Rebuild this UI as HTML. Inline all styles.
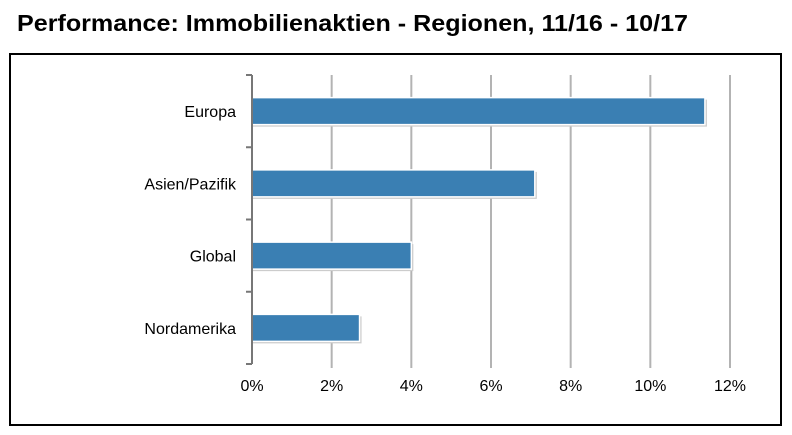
<!DOCTYPE html>
<html><head><meta charset="utf-8"><style>
body{margin:0;background:#fff;}
svg{display:block;font-family:"Liberation Sans",Arial,sans-serif;}
</style></head><body>
<svg width="792" height="435" viewBox="0 0 792 435">
<text x="17" y="31" font-size="23" font-weight="bold" fill="#000" textLength="671" lengthAdjust="spacingAndGlyphs">Performance: Immobilienaktien - Regionen, 11/16 - 10/17</text>
<rect x="10" y="54" width="771" height="371" fill="none" stroke="#000" stroke-width="2"/>
<g id="grid"></g>
<g id="bars"></g>
<g id="axes"></g>
</svg>
<script>
const categories=["Europa","Asien/Pazifik","Global","Nordamerika"];
const values=[11.37,7.1,4.0,2.7];
const ticks=[0,2,4,6,8,10,12];
const tickLabels=["0%","2%","4%","6%","8%","10%","12%"];
const NS="http://www.w3.org/2000/svg";
const x0=252,x1=730,y0=75,y1=364,xmax=12;
const xs=v=>x0+(x1-x0)*v/xmax;
const band=(y1-y0)/categories.length;
function mk(tag,attrs,parent){const e=document.createElementNS(NS,tag);for(const k in attrs)e.setAttribute(k,attrs[k]);parent.appendChild(e);return e;}
const grid=document.getElementById('grid'),bars=document.getElementById('bars'),axes=document.getElementById('axes');
ticks.forEach((t,i)=>{
  if(i>0){const l=mk('line',{x1:xs(t),x2:xs(t),y1:y0,y2:y1+4,stroke:'#b3b3b3','stroke-width':2},grid);
  
  }
  const tx=mk('text',{x:xs(t),y:391,'font-size':16,'text-anchor':'middle',fill:'#000'},axes);
  tx.textContent=tickLabels[i];
  
  
});
const ax=mk('line',{x1:x0,x2:x0,y1:y0,y2:y1,stroke:'#777','stroke-width':2},axes);


for(let i=0;i<=categories.length;i++){
  const y=y0+band*i;
  const tk=mk('line',{x1:x0-6,x2:x0,y1:y,y2:y,stroke:'#777','stroke-width':2},axes);
  
  
}
categories.forEach((c,i)=>{
  const cy=y0+band*(i+0.5);
  const h=27;
  const sh=mk('rect',{x:x0+1,y:cy-h/2+2,width:xs(values[i])-x0+1,height:h,fill:'#ccc'},bars);
  
  
  const r=mk('rect',{x:x0,y:cy-h/2,width:xs(values[i])-x0,height:h,fill:'#3a7fb3',stroke:'#fff','stroke-width':1.5},bars);
  
  
  const t=mk('text',{x:236,y:cy+6,'font-size':16,'text-anchor':'end',fill:'#000'},axes);
  t.textContent=c;
  
  
});
</script>
</body></html>
